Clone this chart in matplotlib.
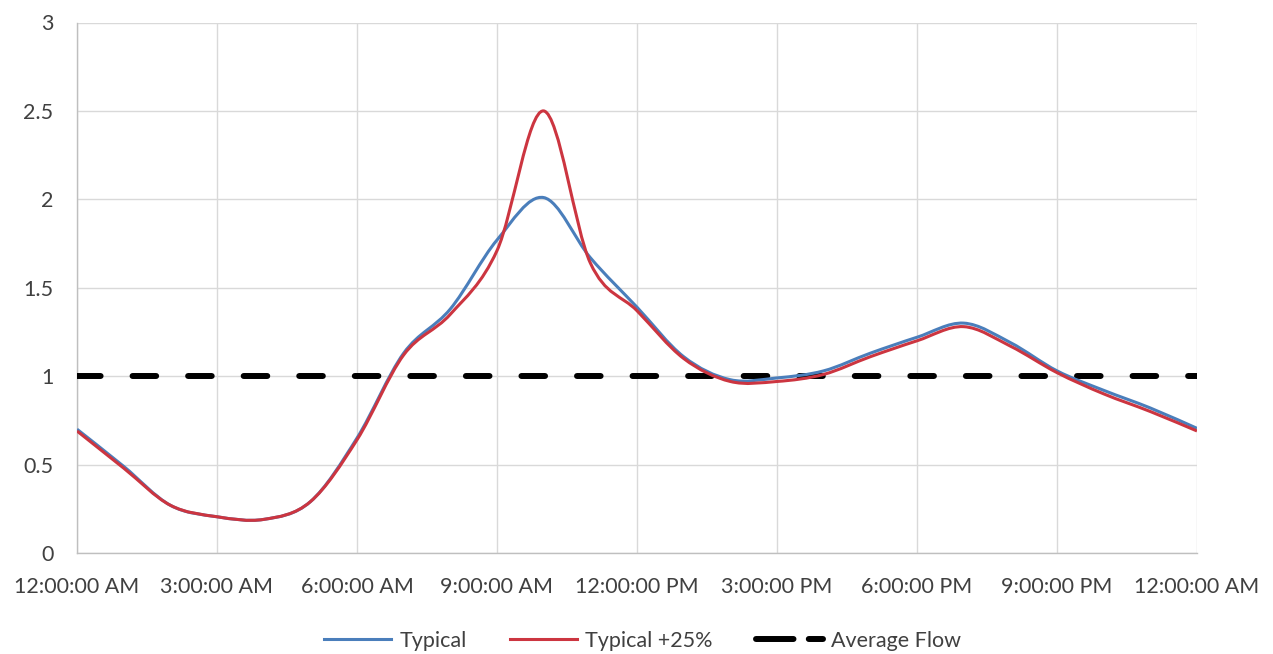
import numpy as np
import matplotlib.pyplot as plt
from matplotlib.path import Path
from matplotlib.patches import PathPatch
from matplotlib.lines import Line2D

plt.rcParams['font.family'] = ['Lato', 'DejaVu Sans']
plt.rcParams['lines.scale_dashes'] = False

# --- Data (hourly) ---
hours = list(range(25))
typical = [0.70, 0.49, 0.27, 0.205, 0.19, 0.29, 0.65, 1.13, 1.38, 1.77, 2.01,
           1.67, 1.39, 1.11, 0.98, 0.99, 1.03, 1.13, 1.22, 1.30, 1.19, 1.03,
           0.92, 0.82, 0.705]
typical_25 = [0.69, 0.48, 0.27, 0.205, 0.19, 0.29, 0.64, 1.12, 1.35, 1.71, 2.50,
              1.64, 1.37, 1.10, 0.97, 0.97, 1.01, 1.11, 1.20, 1.28, 1.17, 1.02,
              0.90, 0.80, 0.69]
average_flow = [1.0] * 25
tick_hours = [0, 3, 6, 9, 12, 15, 18, 21, 24]
tick_labels = ['12:00:00 AM', '3:00:00 AM', '6:00:00 AM', '9:00:00 AM',
               '12:00:00 PM', '3:00:00 PM', '6:00:00 PM', '9:00:00 PM',
               '12:00:00 AM']

BLUE = '#4A7EBB'
RED = '#CC3540'
TEXT = '#404040'


def smooth_path(x, y):
    """Excel-style smoothed line as a cubic Bezier path (Catmull-Rom)."""
    p = np.column_stack([x, y]).astype(float)
    n = len(p)
    verts = [p[0]]
    codes = [Path.MOVETO]
    for i in range(n - 1):
        p0 = p[i - 1] if i > 0 else p[i]
        p3 = p[i + 2] if i + 2 < n else p[i + 1]
        c1 = p[i] + (p[i + 1] - p0) / 6
        c2 = p[i + 1] - (p3 - p[i]) / 6
        verts += [c1, c2, p[i + 1]]
        codes += [Path.CURVE4] * 3
    return Path(verts, codes)


fig = plt.figure(figsize=(12.73, 6.54), dpi=100)
ax = fig.add_axes([77 / 1273, 1 - 553 / 654, 1120 / 1273, 530.5 / 654])

ax.set_xlim(0, 24)
ax.set_ylim(0, 3)
ax.set_xticks(tick_hours)
ax.set_xticklabels(tick_labels)
ax.set_yticks([0, 0.5, 1, 1.5, 2, 2.5, 3])
ax.set_yticklabels(['0', '0.5', '1', '1.5', '2', '2.5', '3'])
ax.grid(True, color='#D9D9D9', linewidth=1.0)
ax.set_axisbelow(True)
for s in ['top', 'right']:
    ax.spines[s].set_visible(False)
for s in ['left', 'bottom']:
    ax.spines[s].set_color('#BFBFBF')
    ax.spines[s].set_linewidth(1.0)
ax.tick_params(axis='both', length=0, labelsize=15.5, labelcolor=TEXT)
ax.tick_params(axis='x', pad=17)
ax.tick_params(axis='y', pad=17)

ax.plot(hours, average_flow, color='black', linewidth=4.3,
        dashes=(17, 23), dash_capstyle='round', zorder=3)
ax.add_patch(PathPatch(smooth_path(hours, typical), facecolor='none',
                       edgecolor=BLUE, linewidth=2.2, zorder=4))
ax.add_patch(PathPatch(smooth_path(hours, typical_25), facecolor='none',
                       edgecolor=RED, linewidth=2.2, zorder=5))

handles = [
    Line2D([], [], color=BLUE, linewidth=2.2, label='Typical'),
    Line2D([], [], color=RED, linewidth=2.2, label='Typical +25%'),
    Line2D([], [], color='black', linewidth=4.3, dashes=(27, 11),
           dash_capstyle='round', label='Average Flow'),
]
leg = fig.legend(handles=handles, loc='lower center', bbox_to_anchor=(0.505, -0.025),
                 ncol=3, frameon=False, fontsize=15.5, handlelength=3.1,
                 handletextpad=0.4, columnspacing=2.0)
for t in leg.get_texts():
    t.set_color(TEXT)

fig.savefig('out.png', dpi=100, facecolor='white')
